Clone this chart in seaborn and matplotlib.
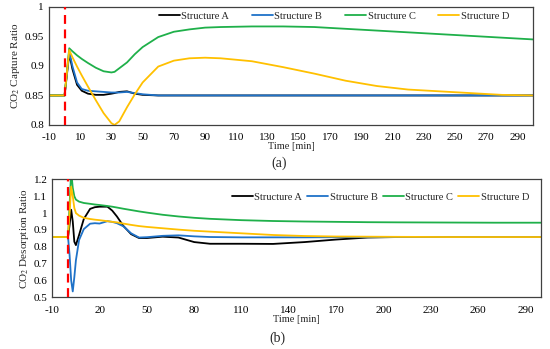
import numpy as np
import pandas as pd
import matplotlib
matplotlib.use("Agg")
import matplotlib.pyplot as plt
from matplotlib.ticker import AutoMinorLocator
import seaborn as sns

# ---- panel (a): CO2 capture ratio ----
time_a = [-10, 0, 1, 2, 3, 5, 8, 11, 15, 20, 25, 30, 32, 35, 40, 45, 50, 60, 70, 80,
          90, 100, 120, 140, 160, 180, 200, 220, 240, 260, 280, 300]
cap_A = [0.85, 0.85, 0.873, 0.897, 0.921, 0.895, 0.868, 0.858, 0.853, 0.851, 0.851, 0.853,
         0.854, 0.856, 0.857, 0.853, 0.851, 0.85, 0.85, 0.85, 0.85, 0.85, 0.85, 0.85, 0.85,
         0.85, 0.85, 0.85, 0.85, 0.85, 0.85, 0.85]
cap_B = [0.85, 0.85, 0.875, 0.90, 0.925, 0.90, 0.872, 0.861, 0.858, 0.857, 0.856, 0.855,
         0.855, 0.855, 0.856, 0.854, 0.852, 0.85, 0.85, 0.85, 0.85, 0.85, 0.85, 0.85, 0.85,
         0.85, 0.85, 0.85, 0.85, 0.85, 0.85, 0.85]
cap_C = [0.85, 0.85, 0.877, 0.904, 0.93, 0.925, 0.918, 0.912, 0.905, 0.897, 0.891, 0.889,
         0.890, 0.896, 0.906, 0.92, 0.932, 0.949, 0.958, 0.962, 0.965, 0.966, 0.967, 0.967,
         0.966, 0.963, 0.96, 0.957, 0.954, 0.951, 0.948, 0.945]
cap_D = [0.85, 0.85, 0.876, 0.902, 0.927, 0.915, 0.899, 0.884, 0.865, 0.842, 0.82, 0.803,
         0.80, 0.806, 0.83, 0.852, 0.872, 0.899, 0.909, 0.913, 0.914, 0.913, 0.908, 0.898,
         0.887, 0.875, 0.866, 0.86, 0.857, 0.854, 0.851, 0.85]

# ---- panel (b): CO2 desorption ratio ----
time_b = [-10, 0, 1, 2, 3, 4, 5, 7, 10, 14, 17, 20, 25, 28, 31, 35, 40, 45, 50, 60, 70,
          80, 90, 110, 130, 150, 170, 190, 210, 240, 270, 300]
des_A = [0.858, 0.858, 0.93, 1.02, 0.95, 0.83, 0.81, 0.87, 0.965, 1.025, 1.035, 1.038,
         1.038, 1.015, 0.98, 0.925, 0.875, 0.852, 0.852, 0.86, 0.855, 0.828, 0.818, 0.818,
         0.817, 0.828, 0.843, 0.855, 0.858, 0.858, 0.858, 0.858]
des_B = [0.858, 0.858, 0.75, 0.60, 0.535, 0.62, 0.72, 0.84, 0.905, 0.937, 0.94, 0.938,
         0.952, 0.948, 0.94, 0.922, 0.88, 0.855, 0.857, 0.865, 0.868, 0.862, 0.858, 0.856,
         0.856, 0.856, 0.857, 0.857, 0.858, 0.858, 0.858, 0.858]
des_C = [0.858, 0.858, 1.05, 1.25, 1.15, 1.10, 1.08, 1.068, 1.06, 1.055, 1.051, 1.048,
         1.042, 1.038, 1.033, 1.026, 1.018, 1.01, 1.003, 0.99, 0.98, 0.972, 0.966, 0.958,
         0.953, 0.95, 0.948, 0.946, 0.945, 0.944, 0.943, 0.943]
des_D = [0.858, 0.858, 1.0, 1.157, 1.10, 1.03, 1.0, 0.985, 0.972, 0.965, 0.961, 0.958,
         0.952, 0.948, 0.945, 0.938, 0.93, 0.923, 0.918, 0.91, 0.902, 0.895, 0.89, 0.88,
         0.87, 0.864, 0.861, 0.86, 0.859, 0.858, 0.858, 0.858]

structures = ["Structure A", "Structure B", "Structure C", "Structure D"]
colors = {"Structure A": "#000000", "Structure B": "#1f72c8",
          "Structure C": "#1fb04a", "Structure D": "#ffc000"}

yticks_a = [0.8, 0.85, 0.9, 0.95, 1.0]
ylabels_a = ["0.8", "0.85", "0.9", "0.95", "1"]
yticks_b = [0.5, 0.6, 0.7, 0.8, 0.9, 1.0, 1.1, 1.2]
ylabels_b = ["0.5", "0.6", "0.7", "0.8", "0.9", "1", "1.1", "1.2"]


def to_long(t, series):
    rows = []
    for name, vals in zip(structures, series):
        for x, y in zip(t, vals):
            rows.append({"Time": x, "Ratio": y, "Structure": name})
    return pd.DataFrame(rows)


df_a = to_long(time_a, [cap_A, cap_B, cap_C, cap_D])
df_b = to_long(time_b, [des_A, des_B, des_C, des_D])

sns.set_style("white")
plt.rcParams["font.family"] = ["Liberation Serif", "DejaVu Serif"]
plt.rcParams["mathtext.fontset"] = "stix"
plt.rcParams["axes.unicode_minus"] = False

fig = plt.figure(figsize=(5.5, 3.49), dpi=100)
ax1 = fig.add_axes([0.089, 0.642, 0.880, 0.338])
ax2 = fig.add_axes([0.095, 0.148, 0.889, 0.338])


def style_axis(ax, df, ylim, yticks, ylabels, ylabel, xmajor, xminor_n, leg_anchor, colsp):
    sns.lineplot(data=df, x="Time", y="Ratio", hue="Structure", palette=colors,
                 hue_order=structures, sort=False, estimator=None, lw=1.3, ax=ax)
    ax.axvline(0, color="#ff0000", ls=(0, (4, 2.5)), lw=1.6, zorder=5)
    ax.set_xlim(-10, 300)
    ax.set_ylim(*ylim)
    ax.set_xticks(np.arange(-10, 300, xmajor))
    ax.xaxis.set_minor_locator(AutoMinorLocator(xminor_n))
    ax.set_yticks(yticks)
    ax.set_yticklabels(ylabels)
    ax.yaxis.set_minor_locator(AutoMinorLocator(5))
    ax.tick_params(which="both", direction="in", colors="#404040", labelcolor="black",
                   labelsize=8, width=0.8)
    ax.tick_params(which="major", length=4)
    ax.tick_params(which="minor", length=2.5)
    ax.tick_params(axis="x", which="major", pad=6)
    for sp in ax.spines.values():
        sp.set_color("#404040")
        sp.set_linewidth(0.9)
    ax.set_xlabel("Time [min]", fontsize=7.5, labelpad=0)
    ax.set_ylabel(ylabel, fontsize=8, labelpad=2)
    ax.legend(loc="center", bbox_to_anchor=leg_anchor, ncol=4, frameon=False,
              fontsize=7.5, handlelength=2.0, handletextpad=0.15, columnspacing=colsp,
              borderaxespad=0)


style_axis(ax1, df_a, (0.8, 1.0), yticks_a, ylabels_a, "CO$_2$ Capture Ratio", 20, 2,
           (0.589, 0.924), 2.2)
style_axis(ax2, df_b, (0.5, 1.2), yticks_b, ylabels_b, "CO$_2$ Desorption Ratio", 30, 3,
           (0.671, 0.85), 0.5)

fig.text(0.507, 0.533, "(a)", ha="center", va="center", fontsize=10)
fig.text(0.505, 0.032, "(b)", ha="center", va="center", fontsize=10)

fig.savefig("out.png", dpi=100)
